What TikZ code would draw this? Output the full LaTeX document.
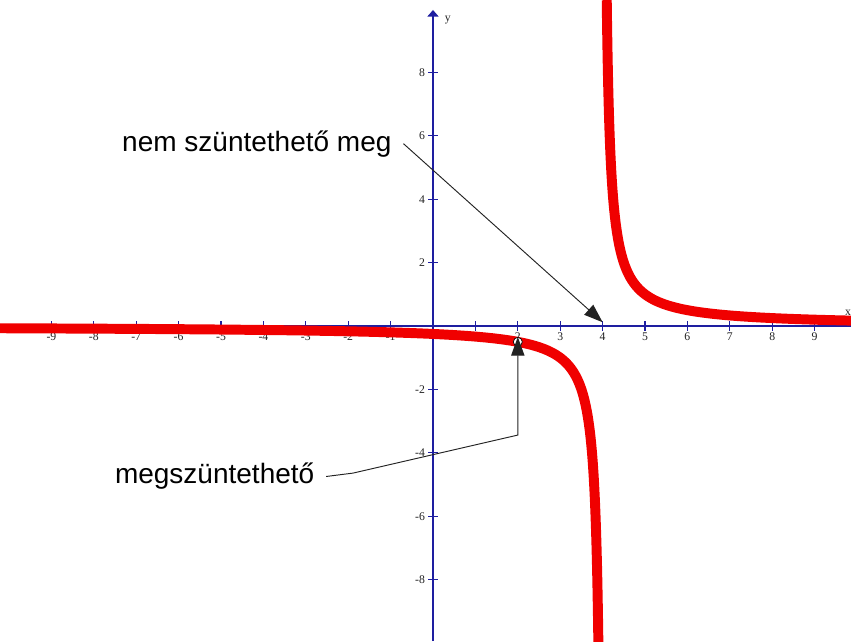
\documentclass[tikz,border=0pt]{standalone}
\usepackage{fontspec}
\setmainfont{Liberation Serif}
\newfontfamily\calloutfont{Liberation Sans}
\usepackage{tikz}
\usetikzlibrary{arrows.meta, positioning, calc}
\definecolor{axisblue}{HTML}{1E1EA0}
\definecolor{curvered}{HTML}{F00000}
\definecolor{darkgray}{HTML}{222222}
\tikzset{
  axisline/.style={line width=1.6pt, color=axisblue},
  tickmark/.style={line width=1pt, color=axisblue},
  ticklabel/.style={font=\fontsize{10}{12}\selectfont, text=darkgray, inner sep=1pt},
  curve/.style={line width=8.5pt, color=curvered, smooth},
  holemark/.style={
    circle, draw=black, fill=white, line width=0.6pt,
    inner sep=0pt, minimum size=0.27cm,
  },
  callout/.style={
    font=\calloutfont\fontsize{23.9}{28}\selectfont,
    inner xsep=0.35cm, inner ysep=2pt,
  },
  pointer/.style={-{Triangle[length=0.56cm,width=0.4cm]}, line width=0.8pt, color=darkgray},
}
\begin{document}
\begin{tikzpicture}[x=1.272cm,y=0.951cm]
  \useasboundingbox (-10.212,-9.937) rectangle (9.858,10.284);
  % axes
  \draw[axisline] (-10.212,0) -- (9.858,0);
  \draw[axisline,-{Triangle[length=0.2cm,width=0.33cm]}] (0,-9.937) -- (0,9.97);
  \node[ticklabel] (xname) at (9.79,0.41) {x};
  \node[ticklabel] (yname) at (0.35,9.65) {y};
  \foreach \i in {-9,...,-1,1,2,...,9}
    \draw[tickmark] (\i,0) ++(0,0.15cm) -- ++(0,-0.3cm);
  \foreach \i in {-9,...,-1,2,3,...,9}
    \node[ticklabel] (xl\i) at (\i,-0.35) {\i};
  \foreach \j in {-8,-6,-4,-2,2,4,6,8}{
    \draw[tickmark] (0,\j) ++(-0.15cm,0) -- ++(0.3cm,0);
    \node[ticklabel,anchor=east] (yl\j) at ([xshift=-0.2cm]0,\j) {\j};
  }
  % the two branches of 1/(x-4)
  \draw[curve] plot[domain=-2.33:1.78, samples=120, variable=\s] ({4+exp(\s)},{exp(-\s)});
  \draw[curve] plot[domain=-2.33:2.66, samples=140, variable=\s] ({4-exp(\s)},{-exp(-\s)});
  \node[holemark] (hole) at (2,-0.5) {};
  % callouts
  \node[callout, anchor=base west] (fixable) at (-7.78,-4.98) {megszüntethető};
  \node[callout, anchor=base west] (nonfixable) at (-7.61,5.52) {nem szüntethető meg};
  \coordinate (jump) at (4,0.12);
  \coordinate (kneeA) at (-1.887,-4.64);
  \coordinate (kneeB) at (2,-3.44);
  \draw[pointer] (fixable.east) -- (kneeA) -- (kneeB) -- (hole.north);
  \draw[pointer] (nonfixable.east) -- (jump);
\end{tikzpicture}
\end{document}
